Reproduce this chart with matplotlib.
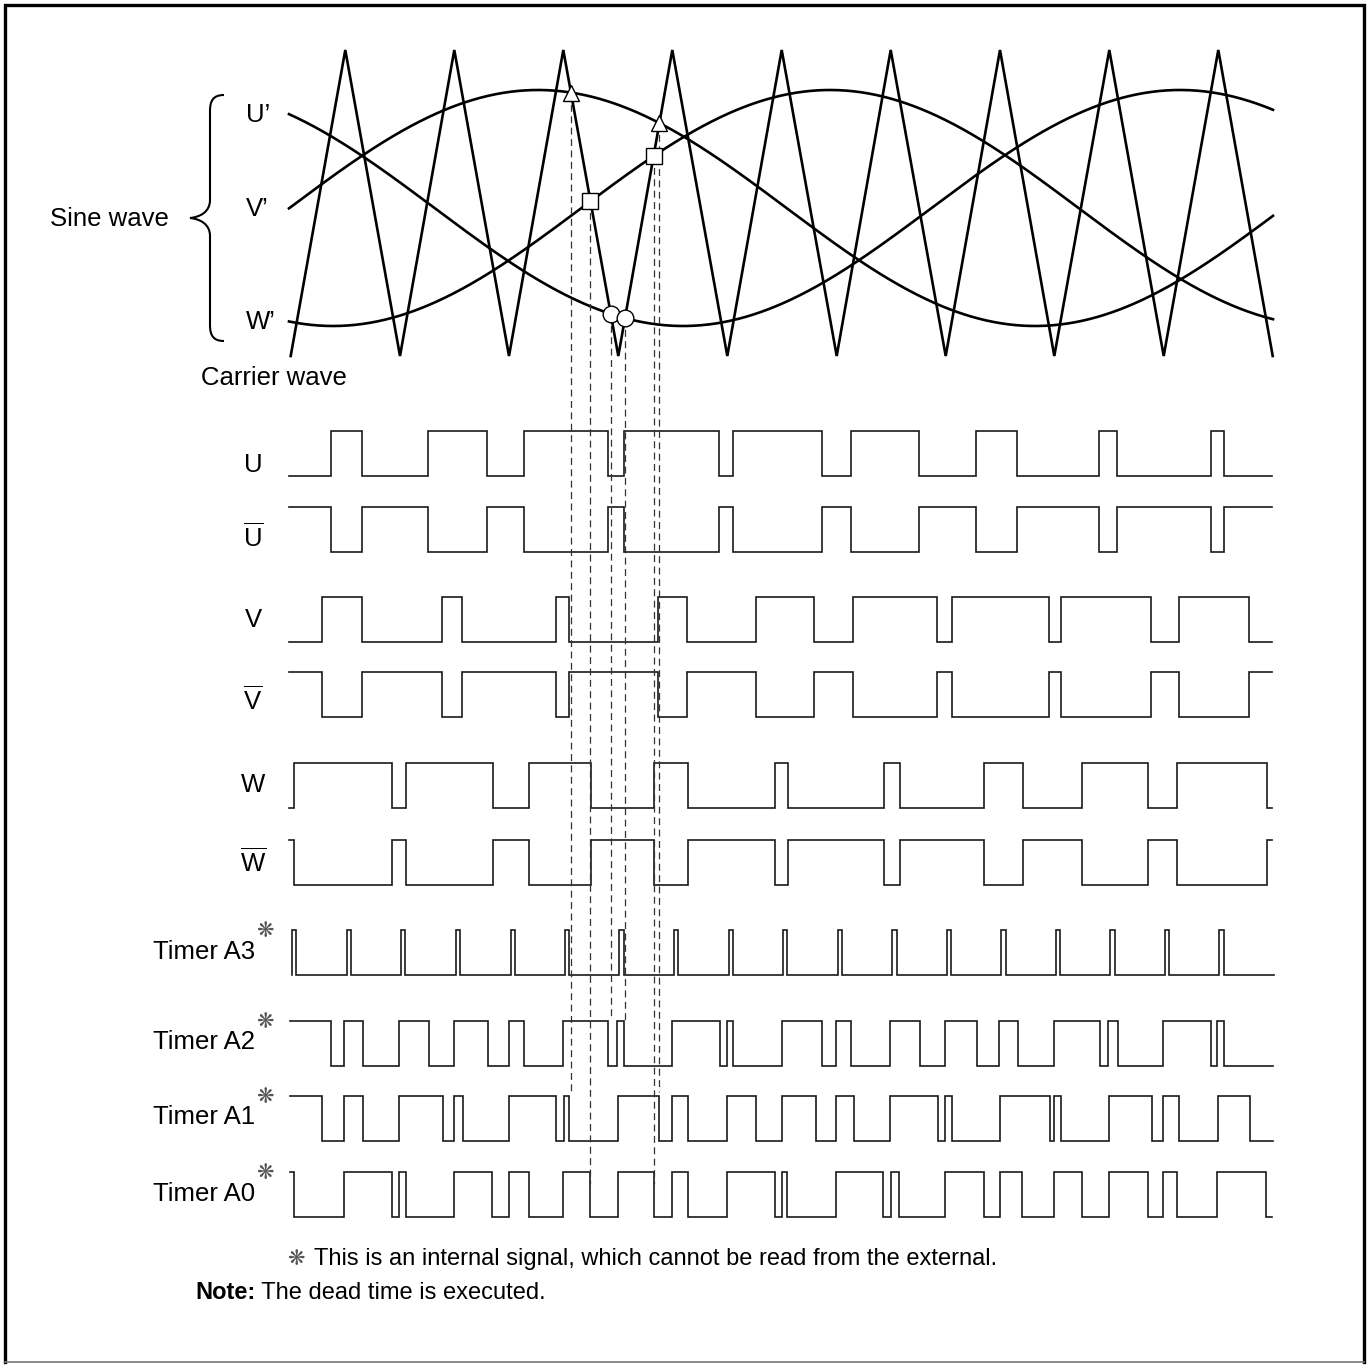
import numpy as np
import matplotlib.pyplot as plt
from matplotlib.path import Path
from matplotlib.patches import PathPatch

plt.rcParams['font.family'] = ['Liberation Sans', 'DejaVu Sans']
plt.rcParams['mathtext.fontset'] = 'custom'
plt.rcParams['mathtext.rm'] = 'Liberation Sans'
plt.rcParams['lines.scale_dashes'] = False

# carrier wave: x of valleys / peaks (alternating, starts at a valley)
carrier_x = [290.7, 345.3, 400, 454.3, 509, 563.3, 618.3, 672.3, 727.3, 781.7,
             836.7, 890.7, 945.7, 1000, 1054.3, 1109.3, 1163.7, 1218.3, 1272.7]
carrier_low, carrier_high = 356, 50

# sine waves (x of the maximum of each phase)
sine_names = ['U’', 'V’', 'W’']
sine_peak_x = [1180, 538, 830]
sine_period = 994
sine_mid, sine_amp = 208, 118

# digital signals: x positions where the level toggles
u_edges = [330.7, 362.3, 428.3, 487.3, 524, 607.7, 623.7, 719.3, 732.7, 821.7,
           851, 919.3, 976.3, 1017, 1099.3, 1117, 1210.7, 1223.7]
v_edges = [321.7, 362.3, 442.3, 462.3, 556, 569.3, 658.3, 687.3, 755.7, 814.3,
           853.3, 937.3, 951.7, 1049, 1060.7, 1151, 1178.7, 1249.3]
w_edges = [294.3, 392.3, 406, 492.7, 529.3, 590.7, 654.3, 688.3, 775, 788.3,
           884.3, 900, 984, 1023.3, 1082.3, 1148.3, 1177.3, 1266.7]
a3_edges = [292.3, 296.3, 346.7, 351, 401, 405.3, 455.7, 460, 510.7, 515, 565, 569.3,
            619.3, 623.7, 674, 678.3, 728.7, 733, 783.3, 787.3, 837.7, 842, 892.3, 896.7,
            946.7, 951, 1001.3, 1005.7, 1055.7, 1060, 1110.3, 1114.7, 1165, 1169.3,
            1219.3, 1223.7]
a2_edges = [331, 344.3, 362.7, 399.3, 429, 454, 488.3, 508.7, 524.3, 563.3, 608.3,
            617.3, 624, 671.7, 720, 726.7, 733.3, 781.7, 822.3, 835.7, 851, 890, 920,
            945, 977, 999.3, 1017.7, 1054.3, 1100, 1108.3, 1117.7, 1163.3, 1210.7,
            1217.3, 1224]
a1_edges = [322.3, 344.3, 363, 399, 442.7, 454, 462.7, 508.7, 556.3, 563.7, 569.3,
            617.7, 659, 672.3, 688.3, 726.7, 756, 781.7, 815.7, 835.7, 854.3, 890.3,
            938.3, 945, 951.7, 999.7, 1049.7, 1054.3, 1060.7, 1108.7, 1152, 1163.3,
            1179.3, 1217.7, 1250]
a0_edges = [294, 344.3, 392.3, 399, 405.7, 454, 492.3, 508.7, 529, 562.7, 590, 617.7,
            653.7, 672.3, 688.3, 726.7, 775, 781.7, 787.3, 835.7, 883.3, 890.7, 899.3,
            945, 983.7, 999.7, 1022.3, 1053.7, 1081.7, 1108.7, 1147.7, 1163.3, 1176.7,
            1217.3, 1265.7]

# intersection markers: (sine phase, carrier segment, marker, row where the dashed line ends)
mark_phase = ['V’', 'W’', 'U’', 'U’', 'W’', 'V’']
mark_seg = [5, 5, 5, 6, 6, 6]
mark_shape = ['^', 's', 'o', 'o', 's', '^']
mark_end_y = [1092, 1184, 1018, 1022, 1184, 1092]

fig = plt.figure(figsize=(13.7, 13.69), dpi=100)
ax = fig.add_axes([0, 0, 1, 1])
ax.set_xlim(0, 1370)
ax.set_ylim(1369, 0)
ax.axis('off')

# frame
ax.plot([5, 5, 1364, 1364], [1362, 5, 5, 1362], color='black', lw=2.4, solid_joinstyle='miter')
ax.plot([5, 1364], [1362, 1362], color='#777777', lw=1.2)

# carrier
carrier_y = [carrier_low if i % 2 == 0 else carrier_high for i in range(len(carrier_x))]
ax.plot(carrier_x, carrier_y, color='black', lw=1.9, solid_joinstyle='miter')


def sine(x, peak):
    return sine_mid - sine_amp * np.cos(2 * np.pi * (np.asarray(x) - peak) / sine_period)


xs = np.linspace(289, 1273, 800)
label_y = {}
for name, peak in zip(sine_names, sine_peak_x):
    ax.plot(xs, sine(xs, peak), color='black', lw=1.9)
    label_y[name] = sine(289, peak)

for name in sine_names:
    ax.text(246, label_y[name] + 1, name, fontsize=18.5, ha='left', va='center')

# brace and side labels
brace = Path([(224, 95), (213, 95), (210, 101), (210, 111), (210, 200),
              (210, 212), (200, 217), (190, 218),
              (200, 219), (210, 224), (210, 236), (210, 325),
              (210, 335), (213, 341), (224, 341)],
             [Path.MOVETO, Path.CURVE4, Path.CURVE4, Path.CURVE4, Path.LINETO,
              Path.CURVE4, Path.CURVE4, Path.CURVE4,
              Path.CURVE4, Path.CURVE4, Path.CURVE4, Path.LINETO,
              Path.CURVE4, Path.CURVE4, Path.CURVE4])
ax.add_patch(PathPatch(brace, fill=False, lw=1.5, color='black'))
ax.text(50, 219, 'Sine wave', fontsize=18.5, ha='left', va='center')
ax.text(201, 378, 'Carrier wave', fontsize=18.5, ha='left', va='center')

# markers + dashed guide lines
for phase, seg, shape, y_end in zip(mark_phase, mark_seg, mark_shape, mark_end_y):
    peak = sine_peak_x[sine_names.index(phase)]
    sx = np.linspace(carrier_x[seg], carrier_x[seg + 1], 4001)
    diff = np.interp(sx, carrier_x, carrier_y) - sine(sx, peak)
    xm = sx[np.argmin(np.abs(diff))]
    ym = sine(xm, peak)
    ax.plot([xm, xm], [ym, y_end], color='#333333', lw=0.9, dashes=(5, 3.2), zorder=4)
    ms = {'^': 11.5, 's': 11.5, 'o': 12}[shape]
    ax.plot(xm, ym, marker=shape, ms=ms, mfc='white', mec='black', mew=1.0, zorder=5)

# digital signals
HEIGHT = 45
row_label = ['U', r'$\overline{\mathrm{U}}$', 'V', r'$\overline{\mathrm{V}}$',
             'W', r'$\overline{\mathrm{W}}$', 'Timer A3', 'Timer A2', 'Timer A1', 'Timer A0']
row_edges = [u_edges, u_edges, v_edges, v_edges, w_edges, w_edges,
             a3_edges, a2_edges, a1_edges, a0_edges]
row_start = [0, 1, 0, 1, 0, 1, 0, 1, 1, 1]
row_x0 = [289.3] * 6 + [292.3, 290, 290, 290]
row_x1 = [1271.7] * 6 + [1274, 1273.3, 1273.3, 1271.7]
row_top = [431, 507, 597, 672, 763, 840, 930, 1021, 1096, 1172]
row_text_y = [465, 537, 620, 700, 785, 862, 952, 1042, 1117, 1194]

for lab, edges, lvl, x0, x1, top, ty in zip(row_label, row_edges, row_start, row_x0,
                                           row_x1, row_top, row_text_y):
    px, py = [x0], [lvl]
    for e in edges:
        px += [e, e]
        py += [lvl, 1 - lvl]
        lvl = 1 - lvl
    px.append(x1)
    py.append(lvl)
    py = [top + (1 - v) * HEIGHT for v in py]
    ax.plot(px, py, color='#1a1a1a', lw=1.2, solid_joinstyle='miter')
    if lab.startswith('Timer'):
        ax.text(255, ty, lab, fontsize=18.5, ha='right', va='center')
        ax.text(265, top + 1, '❋', fontsize=15, ha='center', va='center',
                color='#555555', family='DejaVu Sans')
    else:
        ax.text(253, ty, lab, fontsize=18.5, ha='center', va='center')

# notes
ax.text(296, 1259, '❋', fontsize=15, ha='center', va='center', color='#555555',
        family='DejaVu Sans')
ax.text(314, 1265, 'This is an internal signal, which cannot be read from the external.',
        fontsize=17, ha='left', va='baseline')
t = ax.text(195, 1299, 'Note:', fontsize=17, ha='left', va='baseline', fontweight='bold')
ax.annotate(' The dead time is executed.', xycoords=t, xy=(1, 0), fontsize=17,
            ha='left', va='bottom')

fig.savefig('out.png', dpi=100)
plt.close(fig)
